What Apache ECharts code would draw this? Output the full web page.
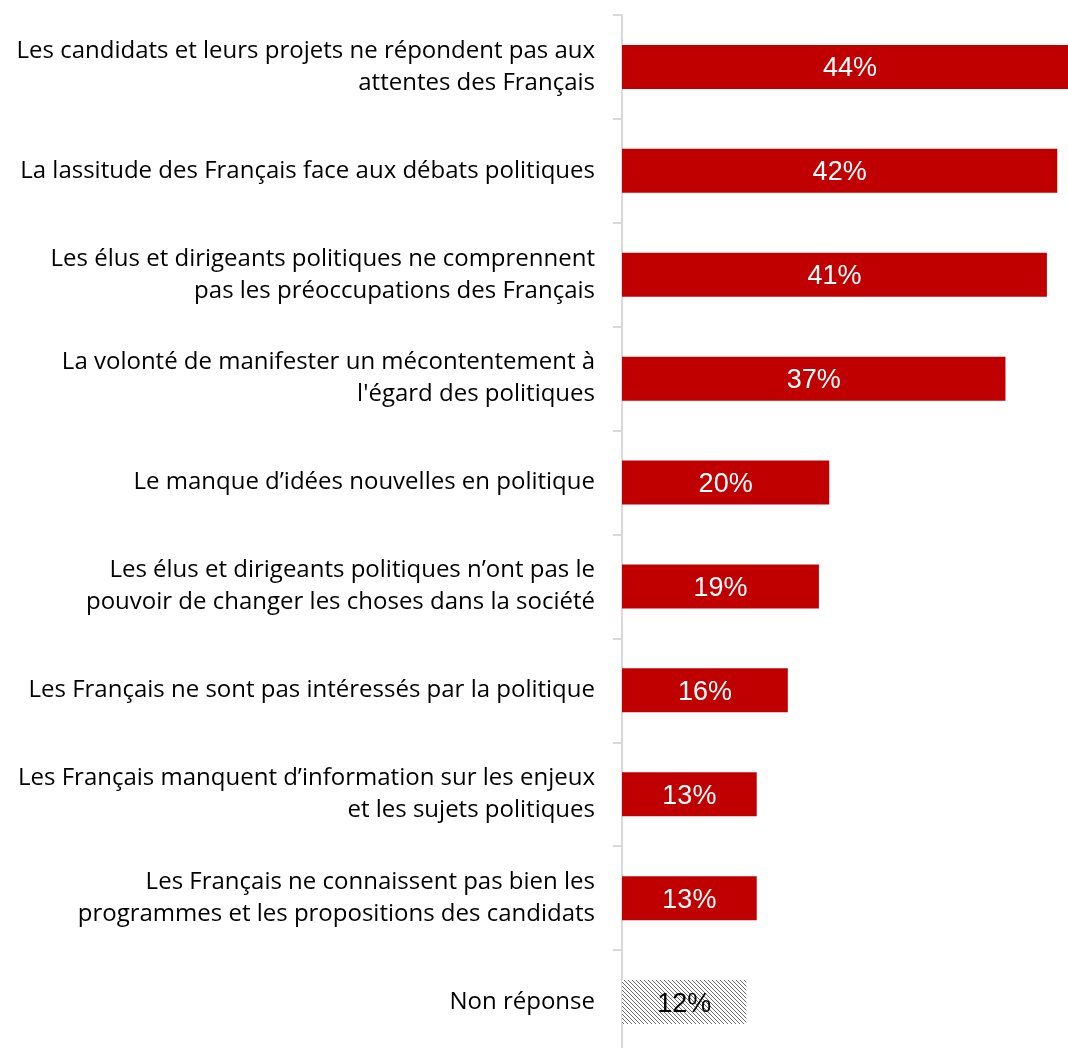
<!DOCTYPE html>
<html><head><meta charset="utf-8">
<script src="https://cdn.jsdelivr.net/npm/echarts@6/dist/echarts.min.js"></script>
<style>html,body{margin:0;padding:0;background:#fff;overflow:hidden}#c{width:1078px;height:1054px}</style>
</head><body><div id="c"></div>
<script>
const categories = [
  "Les candidats et leurs projets ne répondent pas aux\nattentes des Français",
  "La lassitude des Français face aux débats politiques",
  "Les élus et dirigeants politiques ne comprennent\npas les préoccupations des Français",
  "La volonté de manifester un mécontentement à\nl'égard des politiques",
  "Le manque d’idées nouvelles en politique",
  "Les élus et dirigeants politiques n’ont pas le\npouvoir de changer les choses dans la société",
  "Les Français ne sont pas intéressés par la politique",
  "Les Français manquent d’information sur les enjeux\net les sujets politiques",
  "Les Français ne connaissent pas bien les\nprogrammes et les propositions des candidats",
  "Non réponse"
];
const values = [44, 42, 41, 37, 20, 19, 16, 13, 13, 12];
const hatchedIndex = 9;

const tile = document.createElement('canvas');
tile.width = 4; tile.height = 4;
const tctx = tile.getContext('2d');
tctx.fillStyle = '#ffffff'; tctx.fillRect(0,0,4,4);
tctx.fillStyle = '#6e6e6e';
for (let i = 0; i < 4; i++) tctx.fillRect(i, i, 1, 1);

const chart = echarts.init(document.getElementById('c'), null, {renderer:'canvas'});
chart.setOption({
  animation: false,
  grid: {left: 622, top: 15, right: 0, bottom: 0, containLabel: false},
  xAxis: {type: 'value', min: 0, max: 44, show: false},
  yAxis: {
    type: 'category', data: categories, inverse: true,
    axisLine: {show: true, lineStyle: {color: '#d9d9d9', width: 2}},
    axisTick: {show: true, length: 9, lineStyle: {color: '#d9d9d9', width: 2}},
    axisLabel: {margin: 27, color: '#000', fontFamily: 'Open Sans', fontSize: 24, lineHeight: 32, align: 'right', padding: [4, 0, 0, 0]}
  },
  series: [{
    type: 'bar', barWidth: 44,
    data: values.map((v, i) => i === hatchedIndex ? {
      value: v,
      itemStyle: {color: {image: tile, repeat: 'repeat'}},
      label: {color: '#000'}
    } : v),
    itemStyle: {color: '#c00000'},
    label: {show: true, position: 'inside', offset: [0, 2], color: '#fff', fontFamily: 'Liberation Sans', fontSize: 27, formatter: '{c}%'}
  }]
});
</script></body></html>
